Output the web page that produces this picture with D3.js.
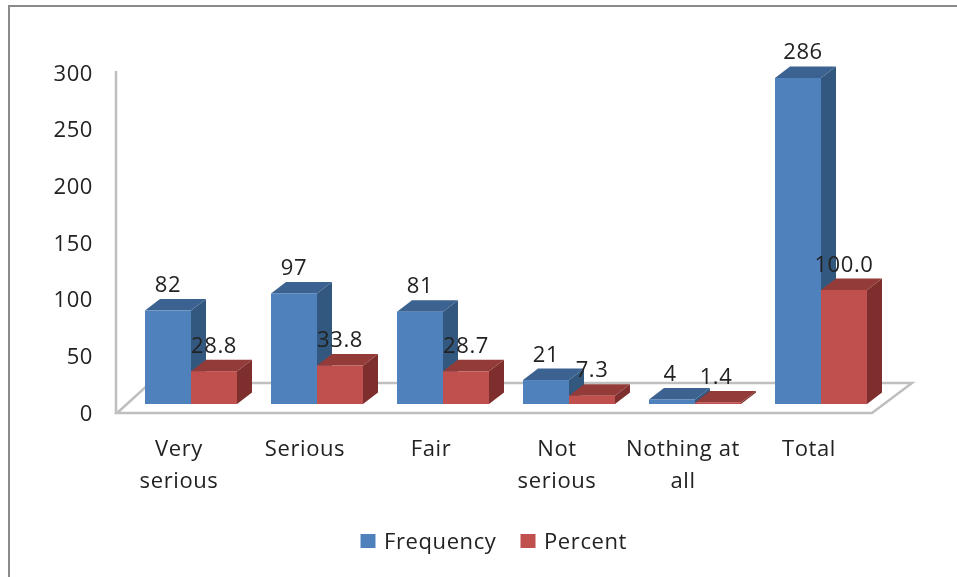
<!DOCTYPE html>
<html><head><meta charset="utf-8">
<script src="https://cdn.jsdelivr.net/npm/d3@7"></script>
<style>
html,body{margin:0;padding:0;background:#fff;overflow:hidden}
svg{filter:blur(0.45px);display:block}
text{font-family:"Open Sans",sans-serif;fill:#222;letter-spacing:0.6px}
</style></head><body>
<svg id="c" width="957" height="577"></svg>
<script>
const categories=[["Very","serious"],["Serious"],["Fair"],["Not","serious"],["Nothing at","all"],["Total"]];
const frequency=[82,97,81,21,4,286];
const percent=[28.8,33.8,28.7,7.3,1.4,100.0];
const percentLabels=["28.8","33.8","28.7","7.3","1.4","100.0"];
const yTicks=[0,50,100,150,200,250,300];
const seriesNames=["Frequency","Percent"];
const faces=[{front:"#4f81bd",top:"#3b6290",side:"#33587f"},{front:"#c0504d",top:"#923b39",side:"#7e2f2d"}];

const svg=d3.select("#c");
const dx=15,dy=11.5;
const fs=22;
const y=d3.scaleLinear().domain([0,300]).range([404,62]);
const axisY=d3.scaleLinear().domain([0,300]).range([413,73]);
const x=d3.scaleBand().domain(d3.range(6)).range([128,884]);
const barW=46;
const bx=(i,s)=>x(i)+x.bandwidth()/2+(s-1)*barW;

svg.append("rect").attr("x",9).attr("y",6).attr("width",980).attr("height",620)
  .attr("fill","#fff").attr("stroke","#8a8a8a").attr("stroke-width",2);

const floor=[[117,413],[872,413],[912,383],[150,383]];
svg.append("path").attr("d",d3.line()(floor)+"Z").attr("fill","none").attr("stroke","#bfbfbf").attr("stroke-width",2.5);
svg.append("line").attr("x1",116).attr("x2",116).attr("y1",71).attr("y2",414).attr("stroke","#bfbfbf").attr("stroke-width",2.5);

svg.append("g").selectAll("text").data(yTicks).join("text")
  .attr("x",93).attr("y",d=>axisY(d)+7.5).attr("text-anchor","end").attr("font-size",fs).text(d=>d);

function box(g,xl,top,w,c){
  const b=y(0);
  g.append("path").attr("d",d3.line()([[xl+w,b],[xl+w+dx,b-dy],[xl+w+dx,top-dy],[xl+w,top]])+"Z").attr("fill",c.side);
  g.append("path").attr("d",d3.line()([[xl,top],[xl+dx,top-dy],[xl+w+dx,top-dy],[xl+w,top]])+"Z").attr("fill",c.top);
  g.append("rect").attr("x",xl).attr("y",top).attr("width",w).attr("height",b-top).attr("fill",c.front);
}
const bars=svg.append("g");
d3.range(6).forEach(i=>{
  box(bars,bx(i,0),y(frequency[i]),barW,faces[0]);
  box(bars,bx(i,1),y(percent[i]),barW,faces[1]);
});
const labels=svg.append("g").attr("font-size",fs).attr("text-anchor","middle");
d3.range(6).forEach(i=>{
  labels.append("text").attr("x",bx(i,0)+barW/2+(i==5?5:0)-(i==4?2:0)).attr("y",y(frequency[i])-dy-7).text(frequency[i]);
  labels.append("text").attr("x",bx(i,1)+barW/2-(i==4?2:0)).attr("y",y(percent[i])-dy-7).text(percentLabels[i]);
});
const cat=svg.append("g").attr("font-size",fs).attr("text-anchor","middle");
categories.forEach((lines,i)=>{
  const cx=x(i)+x.bandwidth()/2-12;
  const t=cat.append("text").attr("x",cx).attr("y",455.5);
  lines.forEach((l,j)=>t.append("tspan").attr("x",cx).attr("dy",j?32:0).text(l));
});
const lx=[360.5,520.5];
const tx=[384,544];
seriesNames.forEach((n,i)=>{
  svg.append("rect").attr("x",lx[i]).attr("y",534).attr("width",15).attr("height",14).attr("fill",faces[i].front);
  svg.append("text").attr("x",tx[i]).attr("y",549).attr("font-size",fs).text(n);
});
</script></body></html>
